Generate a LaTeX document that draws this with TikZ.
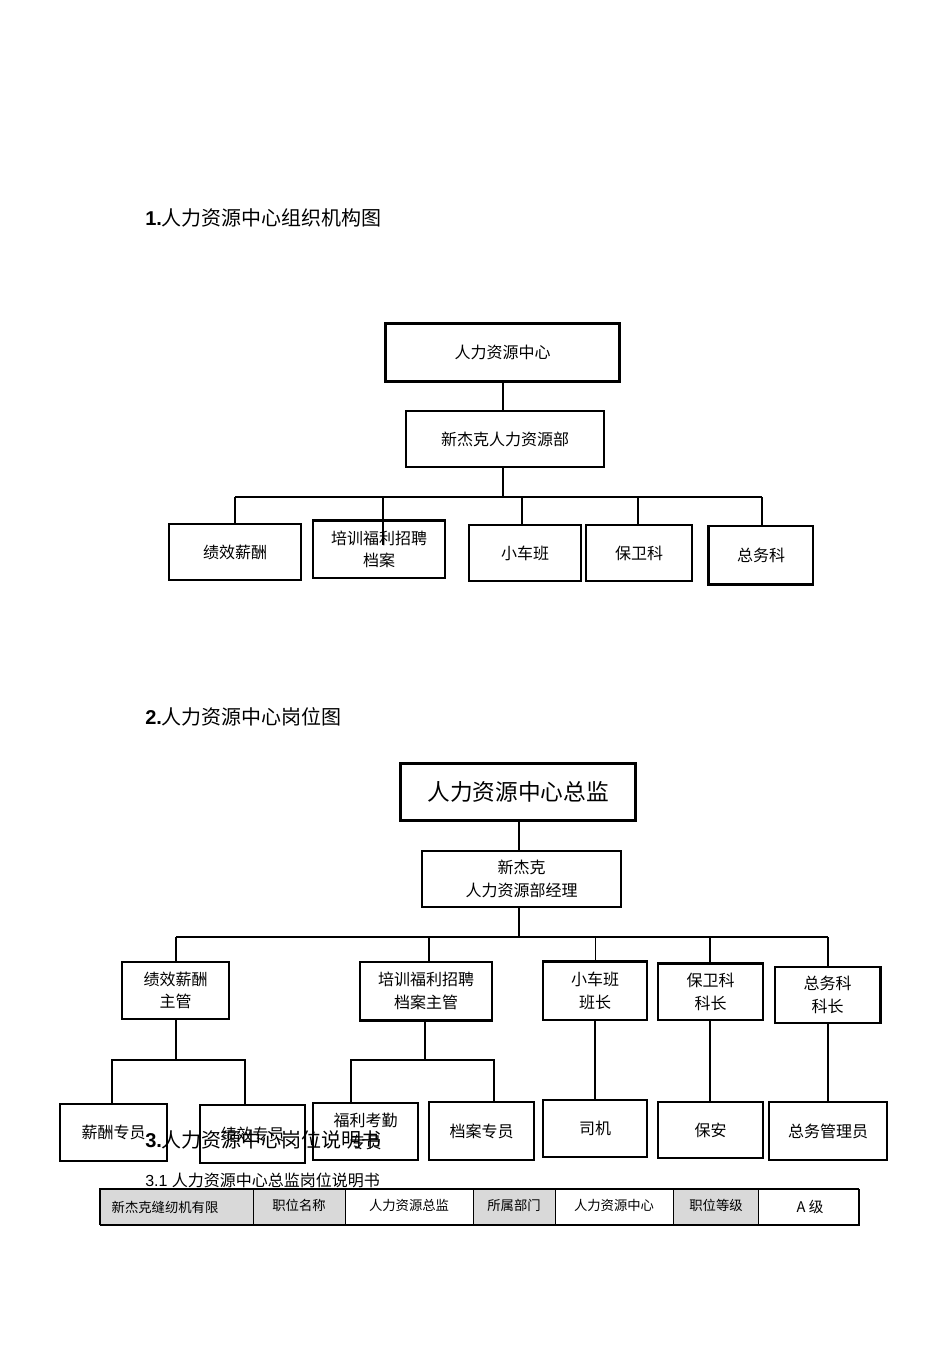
\documentclass[tikz,border=0pt]{standalone}
\usepackage{fontspec}
\setmainfont{Liberation Sans}
\newfontfamily\cjk{Noto Sans CJK SC}
\begin{document}
\begin{tikzpicture}[x=0.75pt,y=-0.75pt,
  box/.style={draw,line width=0.8pt,inner sep=0pt,align=center,font=\cjk\fontsize{12}{17}\selectfont},
  ln/.style={line width=1.4pt},
  cell/.style={draw,line width=0.6pt},
  ttl/.style={anchor=west,inner sep=0pt,font=\fontsize{15}{18}\selectfont}]
\useasboundingbox (0,0) rectangle (950,1345);
\newcommand\bx[6]{\node[box,minimum width={(#4-#2)*0.75pt},minimum height={(#5-#3)*0.75pt}] (#1) at ({(#2+#4)/2},{(#3+#5)/2}) {#6};}
\node[ttl] (t1) at (145,218) {\textbf{1.}\cjk 人力资源中心组织机构图};
% chart 1
\bx{a}{386}{324}{619}{381}{人力资源中心}
\draw[line width=2pt] (a.north west) rectangle (a.south east);
\bx{b}{406}{411}{604}{467}{新杰克人力资源部}
\coordinate (bus1) at (503,497);
\draw[ln] (a.south -| bus1) -- (b.north -| bus1);
\draw[ln] (b.south -| bus1) -- (bus1);
\draw[ln] (235,497) -- (762,497);
\bx{c1}{169}{524}{301}{580}{绩效薪酬}
\bx{c2}{313}{521}{445}{578}{培训福利招聘\\档案}
\draw[line width=2pt] (c2.north west) -- (c2.north east);
\bx{c3}{469}{525}{581}{581}{小车班}
\bx{c4}{586}{525}{692}{581}{保卫科}
\bx{c5}{709}{526}{813}{584}{总务科}
\draw[line width=2pt] (c5.north west) -- (c5.south west) -- (c5.south east);
\draw[ln] (235,497) -- (c1.north -| 235,0);
\draw[ln] (383,497) -- (383,545);
\draw[ln] (522,497) -- (c3.north -| 522,0);
\draw[ln] (638,497) -- (c4.north -| 638,0);
\draw[ln] (762,497) -- (c5.north -| 762,0);
% chart 2
\node[ttl] (t2) at (145,717) {\textbf{2.}\cjk 人力资源中心岗位图};
\bx{d}{401}{764}{635}{820}{\fontsize{17}{20}\selectfont 人力资源中心总监}
\draw[line width=2pt] (d.north west) rectangle (d.south east);
\bx{e}{422}{851}{621}{907}{新杰克\\人力资源部经理}
\draw[line width=0.8pt] (d.south -| 519,0) -- (e.north -| 519,0);
\draw[ln] (e.south -| 519,0) -- (519,937);
\draw[ln] (176,937) -- (828,937);
\bx{f1}{122}{962}{229}{1019}{绩效薪酬\\主管}
\bx{f2}{360}{962}{492}{1020}{培训福利招聘\\档案主管}
\bx{f3}{543}{962}{647}{1020}{小车班\\班长}
\bx{f4}{658}{964}{763}{1020}{保卫科\\科长}
\bx{f5}{775}{967}{880}{1023}{总务科\\科长}
\draw[line width=1.6pt] (f2.south west) -- (f2.south east) (f3.north west)--(f3.north east) (f4.north west)--(f4.north east) (f5.south east)--(f5.north east);
\draw[ln] (176,937) -- (f1.north -| 176,0);
\draw[ln] (429,937) -- (f2.north -| 429,0);
\draw[line width=0.6pt] (595,937) -- (f3.north -| 595,0);
\draw[ln] (710,937) -- (f4.north -| 710,0);
\draw[ln] (828,937) -- (f5.north -| 828,0);
\bx{g1}{60}{1104}{167}{1161}{薪酬专员}
\bx{g2}{200}{1105}{305}{1163}{绩效专员}
\bx{g3}{313}{1103}{418}{1160}{福利考勤\\专员}
\bx{g4}{429}{1102}{534}{1160}{档案专员}
\bx{g5}{543}{1100}{647}{1157}{司机}
\bx{g6}{658}{1102}{763}{1158}{保安}
\bx{g7}{769}{1102}{887}{1160}{总务管理员}
\draw[ln] (f1.south -| 176,0) -- (176,1060);
\draw[ln] (112,1104) -- (112,1060) -- (245,1060) -- (245,1105);
\draw[ln] (f2.south -| 425,0) -- (425,1060);
\draw[ln] (351,1103) -- (351,1060) -- (494,1060) -- (494,1102);
\draw[ln] (f3.south -| 595,0) -- (g5.north -| 595,0);
\draw[ln] (f4.south -| 710,0) -- (g6.north -| 710,0);
\draw[ln] (f5.south -| 828,0) -- (g7.north -| 828,0);
\node[ttl] (t3) at (145,1140) {\textbf{3.}\cjk 人力资源中心岗位说明书};
\node[anchor=west,inner sep=0pt,font=\fontsize{12}{14}\selectfont] (t31) at (145,1180) {3.1 {\cjk 人力资源中心总监岗位说明书}};
% table
\tikzset{tc/.style={font=\cjk\fontsize{10}{12}\selectfont}}
\fill[gray!30] (100,1189) rectangle (345,1225) (473,1189) rectangle (555,1225) (673,1189) rectangle (758,1225);
\foreach \xa/\xb in {100/253,253/345,345/473,473/555,555/673,673/758,758/859} \draw[cell] (\xa,1189) rectangle (\xb,1225);
\draw[line width=2pt] (100,1225) -- (100,1189) -- (859,1189);
\draw[line width=1.2pt] (100,1225) -- (859,1225) -- (859,1189);
\node[tc,anchor=west] (k1) at (107,1207) {新杰克缝纫机有限};
\node[tc] (k2) at (299,1205) {职位名称};
\node[tc] (k3) at (409,1205) {人力资源总监};
\node[tc] (k4) at (514,1205) {所属部门};
\node[tc] (k5) at (614,1205) {人力资源中心};
\node[tc] (k6) at (716,1205) {职位等级};
\node[tc] (k7) at (810,1207) {\fontsize{11}{12}\selectfont A\ 级};
\end{tikzpicture}
\end{document}
